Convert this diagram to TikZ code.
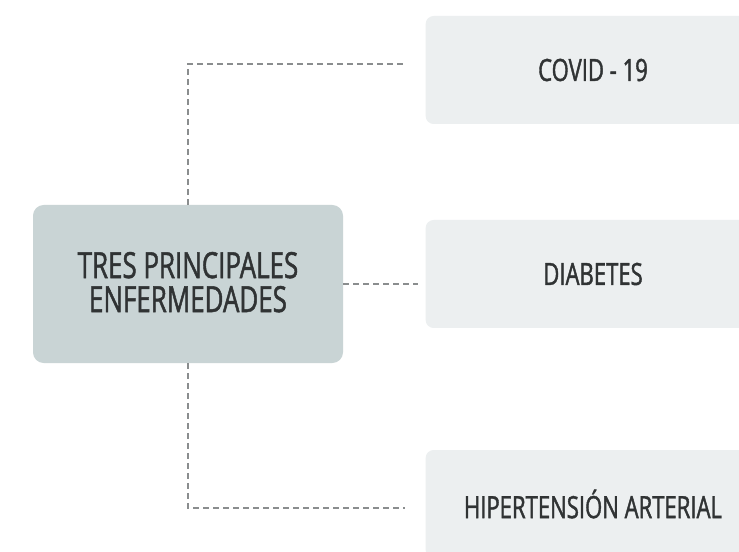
\documentclass[tikz,border=0pt]{standalone}
\usepackage{fontspec}
\setmainfont{Open Sans}[FakeStretch=0.72,FakeBold=1.3]
\usepackage{tikz}
\usetikzlibrary{positioning}
\usetikzlibrary{calc}
\definecolor{centrofill}{HTML}{C9D4D5}
\definecolor{cajafill}{HTML}{ECEFF0}
\definecolor{textogris}{HTML}{303334}
\definecolor{lineagris}{HTML}{8A8D8E}
\tikzstyle{centro}=[rectangle,fill=centrofill,rounded corners=8pt,minimum width=232.5pt,minimum height=118.5pt,align=center,text=textogris,font=\fontsize{27}{25.5}\selectfont]
\tikzstyle{caja}=[rectangle,fill=cajafill,rounded corners=6pt,minimum width=251pt,minimum height=81pt,align=center,text=textogris,font=\fontsize{23}{24}\selectfont]
\tikzstyle{conector}=[draw=lineagris,line width=1.2pt,dash pattern=on 4pt off 3.5pt]

\begin{document}
\begin{tikzpicture}[x=0.75pt,y=-0.75pt]

  \useasboundingbox[fill=white] (0,0) rectangle (739,552);

  \node[centro] (tres) at (188,284) {\raisebox{3pt}{TRES PRINCIPALES}\\\raisebox{3pt}{ENFERMEDADES}};

  \foreach \y/\name/\label in {70/covid/{COVID - 19}, 274/diabetes/DIABETES, 504/hiper/{HIPERTENSIÓN ARTERIAL}}
          \node[caja] (\name) at (593,\y) {\label};

  \coordinate (fincovid) at (405,64);
  \coordinate (finhiper) at (405,508);

  \draw[conector] (tres.north) |- (fincovid);
  \draw[conector] (tres.east) -- ($(tres.east -| diabetes.west)+(-7,0)$);
  \draw[conector] (tres.south) |- (finhiper);

\end{tikzpicture}
\end{document}
